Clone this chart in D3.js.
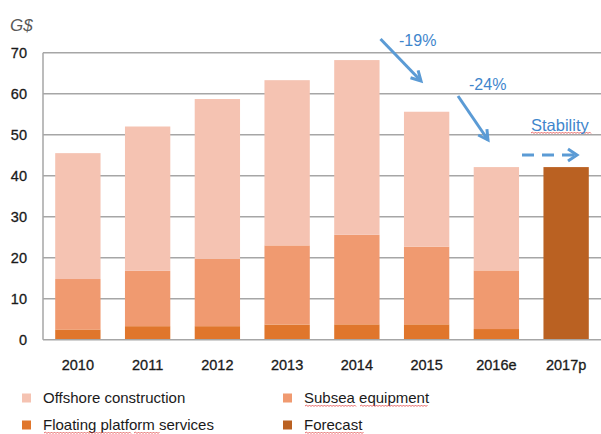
<!DOCTYPE html>
<html><head><meta charset="utf-8">
<script src="https://cdn.jsdelivr.net/npm/d3@7"></script>
<style>body{margin:0;background:#fff}svg{display:block}text{font-family:"Liberation Sans",Arial,sans-serif}</style>
</head><body><svg id="c" width="601" height="434"></svg>
<script>
const categories = ["2010","2011","2012","2013","2014","2015","2016e","2017p"];
const floating = [2.5,3.3,3.3,3.7,3.75,3.75,2.6,0];
const subsea = [12.3,13.5,16.4,19.3,21.85,18.95,14.3,0];
const offshore = [30.7,35.2,39.0,40.3,42.6,32.9,25.2,0];
const forecast = [0,0,0,0,0,0,0,42.1];
const yTicks = [0,10,20,30,40,50,60,70];
const seriesNames = ["Offshore construction","Subsea equipment","Floating platform services","Forecast"];
const colors = {floating:"#E0762C",subsea:"#F09A70",offshore:"#F5C3B2",forecast:"#BA6122"};

const svg = d3.select("#c");
const L=43, R=601, T=52.7, B=339.7;
const x = d3.scaleBand().domain(categories).range([L,R]).paddingInner(0.35).paddingOuter(0.175);
const y = d3.scaleLinear().domain([0,70]).range([B,T]);

svg.append("g").selectAll("line").data(yTicks.slice(1)).join("line")
  .attr("x1",L).attr("x2",R).attr("y1",d=>y(d)).attr("y2",d=>y(d))
  .attr("stroke","#A6A6A6").attr("stroke-width",1.5);

const rows = categories.map((c,i)=>({cat:c,floating:floating[i],subsea:subsea[i],offshore:offshore[i],forecast:forecast[i]}));
const stack = d3.stack().keys(["floating","subsea","offshore","forecast"])(rows);
svg.append("g").selectAll("g").data(stack).join("g").attr("fill",d=>colors[d.key])
  .selectAll("rect").data(d=>d.filter(p=>p[1]-p[0]>0)).join("rect")
  .attr("x",d=>x(d.data.cat)).attr("width",x.bandwidth())
  .attr("y",d=>y(d[1])).attr("height",d=>y(d[0])-y(d[1]));

svg.append("line").attr("x1",L).attr("x2",L).attr("y1",T).attr("y2",B).attr("stroke","#A6A6A6").attr("stroke-width",1.5);
svg.append("line").attr("x1",L).attr("x2",R).attr("y1",B).attr("y2",B).attr("stroke","#A6A6A6").attr("stroke-width",1.5);

svg.append("g").selectAll("text").data(yTicks).join("text")
  .attr("x",27).attr("y",d=>y(d)).attr("dy","0.36em").attr("text-anchor","end")
  .attr("font-size",14.5).attr("fill","#1a1a1a").attr("stroke","#1a1a1a").attr("stroke-width",0.3).text(d=>d);
svg.append("g").selectAll("text").data(categories).join("text")
  .attr("x",d=>x(d)+x.bandwidth()/2).attr("y",365).attr("dy","0.36em").attr("text-anchor","middle")
  .attr("font-size",14.5).attr("fill","#1a1a1a").attr("stroke","#1a1a1a").attr("stroke-width",0.3).text(d=>d);

svg.append("text").attr("x",10).attr("y",31).attr("font-size",17).attr("font-style","italic").attr("fill","#595959").text("G$");

const leg = [[22,398,colors.offshore,seriesNames[0]],[283,398,colors.subsea,seriesNames[1]],[22,425,colors.floating,seriesNames[2]],[283,425,colors.forecast,seriesNames[3]]];
leg.forEach(([lx,ly,c,t])=>{
  svg.append("rect").attr("x",lx).attr("y",ly-4.5).attr("width",9).attr("height",9).attr("fill",c);
  svg.append("text").attr("x",lx+21).attr("y",ly).attr("dy","0.36em").attr("font-size",15).attr("fill","#1a1a1a").text(t);
});

function squiggle(x0,x1,yy){
  let p=`M${x0},${yy}`; let up=true;
  for(let xx=x0+1.5; xx<=x1; xx+=1.5){p+=`L${xx},${yy+(up?-1:0.5)}`;up=!up;}
  svg.append("path").attr("d",p).attr("fill","none").attr("stroke","#E04040").attr("stroke-width",0.8);
}
squiggle(305,357,406); squiggle(360,428,406);
squiggle(44,131,433); squiggle(134,160,433);
squiggle(305,364,433);
squiggle(531,591,133);

const blue="#5B9BD5";
function arrow(x0,y0,x1,y1){
  svg.append("line").attr("x1",x0).attr("y1",y0).attr("x2",x1).attr("y2",y1).attr("stroke",blue).attr("stroke-width",3);
  const a=Math.atan2(y1-y0,x1-x0), h=11, s=0.5;
  const p=[[x1-h*Math.cos(a-s),y1-h*Math.sin(a-s)],[x1,y1],[x1-h*Math.cos(a+s),y1-h*Math.sin(a+s)]];
  svg.append("path").attr("d",d3.line()(p)).attr("fill","none").attr("stroke",blue).attr("stroke-width",3);
}
arrow(380.5,39,421,81);
arrow(458,96,488,140);
svg.append("line").attr("x1",522).attr("y1",155).attr("x2",574).attr("y2",155).attr("stroke",blue).attr("stroke-width",3).attr("stroke-dasharray","12,8");
(function(){const x1=577,y1=155;svg.append("path").attr("d",d3.line()([[x1-9,y1-6],[x1,y1],[x1-9,y1+6]])).attr("fill","none").attr("stroke",blue).attr("stroke-width",3);})();
svg.append("text").attr("x",399).attr("y",40).attr("dy","0.36em").attr("font-size",16).attr("fill","#3F86CC").text("-19%");
svg.append("text").attr("x",469).attr("y",84).attr("dy","0.36em").attr("font-size",16).attr("fill","#3F86CC").text("-24%");
svg.append("text").attr("x",531).attr("y",125).attr("dy","0.36em").attr("font-size",16.5).attr("fill","#3F86CC").text("Stability");
</script></body></html>
